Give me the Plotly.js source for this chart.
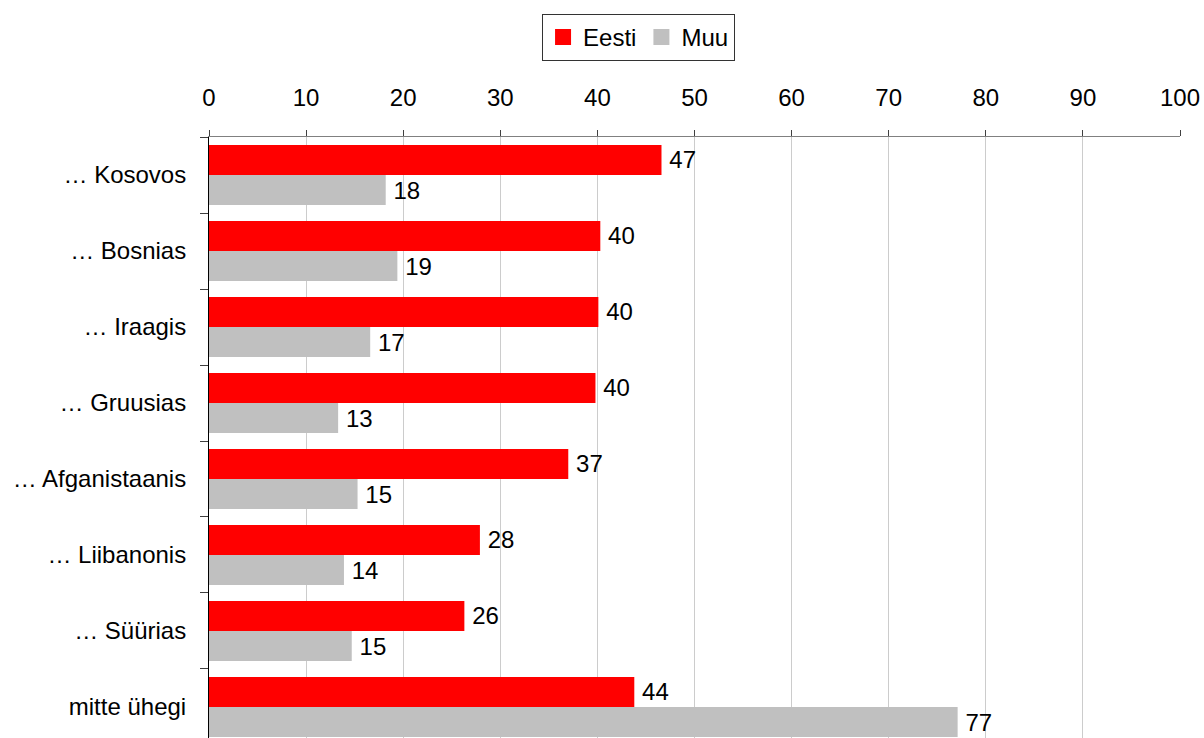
<!DOCTYPE html>
<html>
<head>
<meta charset="utf-8">
<script src="https://cdn.plot.ly/plotly-3.0.1.min.js"></script>
<style>html,body{margin:0;padding:0;background:#fff;}#chart{width:1204px;height:738px;}</style>
</head>
<body>
<div id="chart"></div>
<script>
const categories = ["… Kosovos", "… Bosnias", "… Iraagis", "… Gruusias", "… Afganistaanis", "… Liibanonis", "… Süürias", "mitte ühegi"];
const eestiValues = [46.6, 40.3, 40.1, 39.8, 37.0, 27.9, 26.3, 43.8];
const muuValues = [18.2, 19.4, 16.6, 13.3, 15.3, 13.9, 14.7, 77.1];
const eestiLabels = ["47", "40", "40", "40", "37", "28", "26", "44"];
const muuLabels = ["18", "19", "17", "13", "15", "14", "15", "77"];
const xTicks = [0, 10, 20, 30, 40, 50, 60, 70, 80, 90, 100];
const seriesNames = ["Eesti", "Muu"];
const seriesColors = ["#FF0000", "#C0C0C0"];

const fontFamily = "Liberation Sans, Arial, sans-serif";
const FS = 24;

const barTrace = (i, values, labels) => ({
  type: "bar", orientation: "h", name: seriesNames[i], showlegend: false,
  y: categories, x: values, text: labels,
  texttemplate: "\u2009%{text}",
  textposition: "outside", cliponaxis: false,
  textfont: {family: fontFamily, size: FS, color: "#000"},
  marker: {color: seriesColors[i]}, hoverinfo: "skip"
});

const legendTrace = (i) => ({
  type: "scatter", mode: "markers", name: seriesNames[i], showlegend: true,
  x: [null], y: [null],
  marker: {symbol: "square", size: 17, color: seriesColors[i]},
  hoverinfo: "skip"
});

const traces = [
  barTrace(0, eestiValues, eestiLabels),
  barTrace(1, muuValues, muuLabels),
  legendTrace(0),
  legendTrace(1)
];

const layout = {
  width: 1204, height: 738,
  margin: {l: 209, r: 24, t: 137, b: 0, pad: 0},
  paper_bgcolor: "#fff", plot_bgcolor: "#fff",
  font: {family: fontFamily, size: FS, color: "#000"},
  barmode: "group", bargap: 0.21, bargroupgap: 0,
  showlegend: true,
  legend: {
    orientation: "h", x: 0.343, xanchor: "left", y: 1.205, yanchor: "top",
    bordercolor: "#333", borderwidth: 1, bgcolor: "#fff",
    font: {family: fontFamily, size: FS, color: "#000"},
    itemwidth: 30, tracegroupgap: 0
  },
  xaxis: {
    side: "top", range: [0, 100], tickvals: xTicks, ticktext: xTicks.map(String),
    showgrid: true, gridcolor: "#CCCCCC", gridwidth: 1,
    showline: true, linecolor: "#808080", linewidth: 1,
    ticks: "outside", ticklen: 6, tickcolor: "#404040", tickwidth: 1,
    ticklabelstandoff: 14,
    tickfont: {family: fontFamily, size: FS, color: "#000"},
    zeroline: false, fixedrange: true
  },
  yaxis: {
    type: "category", range: [7.408, -0.5],
    showline: true, linecolor: "#000", linewidth: 1,
    ticks: "outside", tickson: "boundaries", ticklen: 8, tickcolor: "#404040", tickwidth: 1,
    ticklabelstandoff: 17,
    tickfont: {family: fontFamily, size: FS, color: "#000"},
    showgrid: false, zeroline: false, fixedrange: true
  }
};

Plotly.newPlot("chart", traces, layout, {displayModeBar: false, staticPlot: true});
</script>
</body>
</html>
